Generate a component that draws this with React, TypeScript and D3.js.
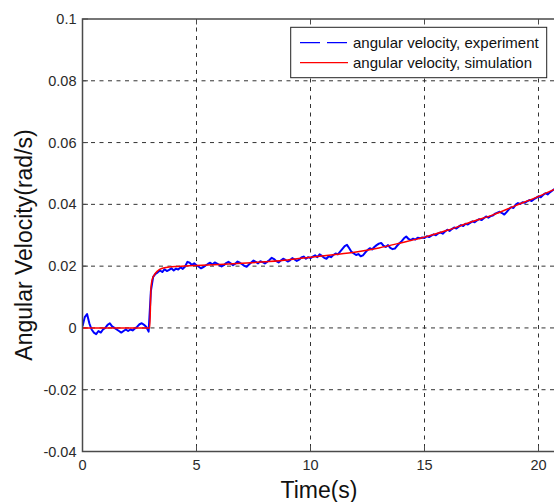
import React from 'react'
import * as d3 from 'd3'

// measured angular velocity, sampled every 0.1 s from t = 0
const expStep = 0.1
const expVel = [
  0.0005, 0.0035, 0.0045, 0.0015, -0.0005, -0.0015, -0.002, -0.001, -0.0015, -0.0005,
  0.0, 0.001, 0.0015, 0.0005, 0.0, -0.0005, -0.001, -0.0015, -0.001, -0.0005,
  -0.001, -0.0005, -0.0008, -0.0002, 0.0004, 0.0012, 0.0015, 0.001, 0.0003, -0.0012,
  0.012, 0.0165, 0.0175, 0.018, 0.0186, 0.0181, 0.019, 0.0184, 0.0188, 0.0193,
  0.0186, 0.0192, 0.0189, 0.0196, 0.0191, 0.0199, 0.0214, 0.0211, 0.0204, 0.0209,
  0.0203, 0.0198, 0.0193, 0.0197, 0.0202, 0.0207, 0.0211, 0.0205, 0.0212, 0.0208,
  0.0204, 0.0199, 0.0203, 0.021, 0.0214, 0.0209, 0.0203, 0.0208, 0.0215, 0.0211,
  0.0206, 0.0201, 0.0198, 0.0205, 0.0212, 0.0218, 0.0214, 0.0209, 0.0216, 0.0213,
  0.0209, 0.0214, 0.022, 0.0227, 0.0223, 0.0216, 0.0212, 0.0218, 0.0224, 0.022,
  0.0215, 0.0219, 0.0226, 0.0222, 0.0217, 0.0221, 0.0228, 0.0231, 0.0224, 0.0229,
  0.0226, 0.0231, 0.0235, 0.0229, 0.0238, 0.0233, 0.0227, 0.0224, 0.0232, 0.0229,
  0.0236, 0.0241, 0.0238, 0.0247, 0.0256, 0.0265, 0.0269, 0.0258, 0.0246, 0.0241,
  0.0236, 0.0239, 0.0232, 0.0235, 0.0244, 0.0252, 0.0258, 0.0254, 0.0262, 0.0268,
  0.0273, 0.0275, 0.0266, 0.0262, 0.0268, 0.0259, 0.0255, 0.0257, 0.0266, 0.0274,
  0.0281, 0.029, 0.0296, 0.0288, 0.0284, 0.0289, 0.0286, 0.0292, 0.029, 0.0293,
  0.0291, 0.0297, 0.0294, 0.0299, 0.0303, 0.03, 0.0306, 0.0309, 0.0305, 0.0312,
  0.0318, 0.0314, 0.032, 0.0325, 0.0322, 0.0328, 0.0333, 0.033, 0.0337, 0.0335,
  0.034, 0.0345, 0.0342, 0.0348, 0.0352, 0.0349, 0.0355, 0.0361, 0.0357, 0.0362,
  0.0364, 0.037, 0.0373, 0.0376, 0.0372, 0.0367, 0.0375, 0.0384, 0.0391, 0.0388,
  0.0399, 0.0404, 0.0401, 0.0407, 0.0405, 0.041, 0.0414, 0.0411, 0.0417, 0.0421,
  0.0426, 0.0423, 0.043, 0.0436, 0.0432, 0.0439, 0.0444, 0.045, 0.0447
]

// simulated angular velocity
const simTime = [0, 2.95, 3.0, 3.05, 3.15, 3.3, 3.5, 3.8, 4.2, 5, 6, 7, 8, 9, 10, 11, 12, 13, 14, 15, 16, 17, 18, 19, 20, 21]
const simVel = [0, 0, 0.0125, 0.0155, 0.0172, 0.0185, 0.0193, 0.0197, 0.0199, 0.0202, 0.0205, 0.0209, 0.0214, 0.022, 0.0229, 0.0237, 0.0246, 0.0259, 0.0276, 0.0294, 0.0316, 0.0342, 0.0366, 0.0396, 0.0426, 0.0459]

const xTicks = [0, 5, 10, 15, 20]
const yTicks = [-0.04, -0.02, 0, 0.02, 0.04, 0.06, 0.08, 0.1]
const legendLabels = ['angular velocity, experiment', 'angular velocity, simulation']

const font = '"Liberation Sans", Arial, sans-serif'

function App() {
  const width = 554
  const height = 502
  const left = 82.5
  const top = 19
  const bottom = 451.5
  const right = left + 25 * 22.8

  const x = d3.scaleLinear().domain([0, 25]).range([left, right])
  const y = d3.scaleLinear().domain([-0.04, 0.1]).range([bottom, top])

  const expLine = d3.line<number>()
    .x((d, i) => x(i * expStep))
    .y(d => y(d))
  const simLine = d3.line<number>()
    .x((d, i) => x(simTime[i]))
    .y(d => y(d))
    .curve(d3.curveMonotoneX)

  const axisColor = '#4a4a4a'
  const tickLen = 5.5

  return (
    <svg width={width} height={height} style={{ position: 'absolute', left: 0, top: 0, background: '#fff' }}>
      <rect width={width} height={height} fill="#fff" />
      <defs>
        <clipPath id="plot">
          <rect x={left} y={top} width={right - left} height={bottom - top} />
        </clipPath>
      </defs>
      {/* grid */}
      <g stroke="#333" strokeWidth={1} strokeDasharray="4,4.5">
        {xTicks.filter(t => t > 0).map(t => (
          <line key={'gx' + t} x1={x(t)} x2={x(t)} y1={top} y2={bottom} />
        ))}
        {yTicks.filter(t => t > -0.04 && t < 0.1).map(t => (
          <line key={'gy' + t} x1={left} x2={right} y1={y(t)} y2={y(t)} />
        ))}
      </g>
      {/* ticks */}
      <g stroke={axisColor} strokeWidth={1}>
        {xTicks.map(t => (
          <g key={'tx' + t}>
            <line x1={x(t)} x2={x(t)} y1={bottom} y2={bottom - tickLen} />
            <line x1={x(t)} x2={x(t)} y1={top} y2={top + tickLen} />
          </g>
        ))}
        {yTicks.map(t => (
          <line key={'ty' + t} x1={left} x2={left + tickLen} y1={y(t)} y2={y(t)} />
        ))}
      </g>
      {/* data */}
      <g clipPath="url(#plot)" fill="none">
        <path d={expLine(expVel) || ''} stroke="#0000ff" strokeWidth={2} strokeLinejoin="round" />
        <path d={simLine(simVel) || ''} stroke="#ff0000" strokeWidth={1.5} />
      </g>
      {/* frame */}
      <rect x={left} y={top} width={right - left} height={bottom - top} fill="none" stroke={axisColor} strokeWidth={1.5} />
      {/* tick labels */}
      <g fontFamily={font} fontSize={14.5} fill="#2a2a2a">
        {xTicks.map(t => (
          <text key={'lx' + t} x={x(t)} y={bottom + 18} textAnchor="middle">{t}</text>
        ))}
        {yTicks.map(t => (
          <text key={'ly' + t} x={left - 6} y={y(t) + 5} textAnchor="end">{String(t)}</text>
        ))}
      </g>
      {/* axis labels */}
      <text x={319} y={498} textAnchor="middle" fontFamily={font} fontSize={23} fill="#111">Time(s)</text>
      <text transform={`translate(32, ${245}) rotate(-90)`} textAnchor="middle" fontFamily={font} fontSize={23} fill="#111">
        Angular Velocity(rad/s)
      </text>
      {/* legend */}
      <g>
        <rect x={290.7} y={27.3} width={256} height={50.4} fill="#fff" stroke="#222" strokeWidth={1} />
        <line x1={300} x2={348} y1={42.7} y2={42.7} stroke="#0000ff" strokeWidth={1.2} strokeDasharray="20,7" />
        <line x1={300} x2={348} y1={62.7} y2={62.7} stroke="#ff0000" strokeWidth={1.2} />
        <g fontFamily={font} fontSize={15} fill="#111">
          {legendLabels.map((l, i) => (
            <text key={l} x={353} y={42.7 + i * 20 + 5}>{l}</text>
          ))}
        </g>
      </g>
    </svg>
  )
}

export default App
